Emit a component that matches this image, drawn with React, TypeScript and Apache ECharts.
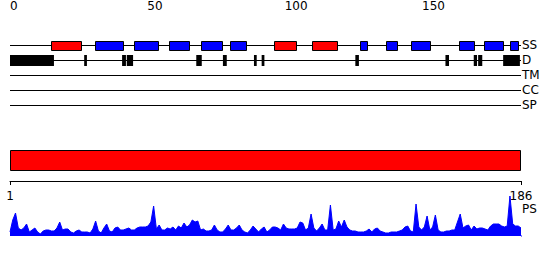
import React, { useEffect, useRef } from "react";
import * as echarts from "echarts";

const SEQ_LENGTH = 186;
const TRACKS = ["SS", "D", "TM", "CC", "SP"];
const RULER_TICKS = [0, 10, 20, 30, 40, 50, 60, 70, 80, 90, 100, 110, 120, 130, 140, 150, 160, 170, 180];
const RULER_LABELS = [0, 50, 100, 150];
const PS_AXIS_LABELS = [1, 186];

// secondary structure: [start, end]
const SS_HELIX = [[15, 26], [96, 104], [110, 119]];
const SS_STRAND = [
  [31, 41], [45, 54], [58, 65], [69.5, 77], [80, 86], [127.5, 130],
  [137, 141], [146, 153], [163.5, 169], [172.5, 179.5], [182, 185],
];
// disorder regions
const DISORDER = [
  [0, 16], [27, 28], [40.8, 42.2], [42.5, 44.8], [67.8, 69.8], [77.5, 78.9],
  [88.8, 89.8], [91.6, 92.6], [125.7, 127], [158.5, 159.8], [168.8, 170],
  [170.4, 171.9], [179.5, 185.6],
];
// full-length domain
const DOMAINS = [[0, 186]];

// profile values per residue (1..186)
const PS_VALUES = [
  4, 16, 23, 8, 6, 8, 12, 4, 6, 8,
  4, 2, 5, 6, 6, 5, 5, 8, 14, 6,
  7, 7, 4, 3, 5, 6, 4, 4, 4, 3,
  7, 15, 5, 3, 8, 12, 5, 4, 8, 9,
  6, 6, 7, 8, 6, 6, 8, 9, 9, 9,
  10, 14, 30, 7, 11, 6, 6, 8, 7, 9,
  6, 10, 8, 13, 9, 11, 16, 14, 15, 6,
  7, 5, 5, 6, 11, 6, 4, 4, 7, 11,
  6, 6, 8, 11, 6, 4, 3, 6, 10, 7,
  4, 7, 9, 4, 6, 9, 9, 8, 6, 12,
  8, 7, 7, 7, 8, 14, 13, 6, 8, 22,
  8, 5, 8, 12, 6, 6, 31, 6, 7, 15,
  9, 16, 9, 6, 5, 5, 4, 4, 4, 5,
  7, 4, 7, 8, 5, 4, 3, 3, 4, 4,
  4, 5, 6, 9, 10, 5, 4, 32, 9, 6,
  9, 20, 6, 9, 21, 6, 4, 4, 5, 5,
  6, 6, 14, 22, 8, 10, 11, 6, 10, 7,
  8, 8, 7, 6, 10, 12, 12, 12, 10, 9,
  10, 40, 12, 10, 10, 8,
];
const PS_TAIL = [[186, 0], [190.5, 0]];

const FONT = "DejaVu Sans";

export default function App() {
  const ref = useRef<HTMLDivElement>(null);

  useEffect(() => {
    document.body.style.margin = "0";
    const chart = echarts.init(ref.current!, null, { renderer: "svg" });

    const trackIdx = (name: string) => TRACKS.indexOf(name);

    const boxRenderer = (fill: string, stroke: boolean, halfUp: number, h: number) =>
      (params: any, api: any) => {
        const s = api.value(0);
        const e = api.value(1);
        const t = api.value(2);
        const p0 = api.coord([s, t]);
        const p1 = api.coord([e, t]);
        const yc = Math.round(p0[1]);
        if (stroke) {
          const x0 = Math.round(p0[0]) + 0.5;
          const x1 = Math.round(p1[0]) + 0.5;
          return {
            type: "rect",
            shape: { x: x0, y: yc - halfUp + 0.5, width: x1 - x0, height: h },
            style: { fill, stroke: "#000", lineWidth: 1 },
          };
        }
        return {
          type: "rect",
          shape: { x: p0[0], y: yc - halfUp, width: p1[0] - p0[0], height: h },
          style: { fill },
        };
      };

    const option: any = {
      animation: false,
      grid: [
        { left: 10, width: 511, top: 37.5, height: 75 },
        { left: 10, width: 511, top: 150, height: 21 },
        { left: 10, width: 511, top: 181, height: 55 },
      ],
      xAxis: [
        {
          gridIndex: 0,
          type: "value",
          min: 0,
          max: SEQ_LENGTH,
          position: "top",
          offset: 22.5,
          axisLine: { onZero: false, lineStyle: { color: "#000", width: 1 } },
          axisTick: { customValues: RULER_TICKS, length: 3, lineStyle: { color: "#000" } },
          axisLabel: {
            customValues: RULER_LABELS,
            align: "left",
            margin: 3,
            color: "#000",
            fontFamily: FONT,
            fontSize: 12,
          },
          splitLine: { show: false },
        },
        { gridIndex: 1, type: "value", min: 0, max: SEQ_LENGTH, show: false },
        {
          gridIndex: 2,
          type: "value",
          min: 1,
          max: SEQ_LENGTH,
          position: "top",
          axisLine: { onZero: false, lineStyle: { color: "#000", width: 1 } },
          axisTick: { inside: true, length: 4, customValues: PS_AXIS_LABELS, lineStyle: { color: "#000" } },
          axisLabel: {
            inside: true,
            customValues: PS_AXIS_LABELS,
            margin: 9,
            color: "#000",
            fontFamily: FONT,
            fontSize: 12,
          },
          splitLine: { show: false },
        },
      ],
      yAxis: [
        {
          gridIndex: 0,
          type: "category",
          data: TRACKS,
          inverse: true,
          position: "right",
          axisLine: { show: false },
          axisTick: { show: false },
          axisLabel: { interval: 0, margin: 1, color: "#000", fontFamily: FONT, fontSize: 12 },
          splitLine: { show: false },
        },
        { gridIndex: 1, type: "value", min: 0, max: 1, show: false },
        {
          gridIndex: 2,
          type: "value",
          min: 0,
          max: 55,
          position: "right",
          axisLine: { show: false },
          axisTick: { show: false },
          axisLabel: { show: false },
          splitLine: { show: false },
          name: "PS",
          nameLocation: "middle",
          nameRotate: 0,
          nameGap: 1,
          nameTextStyle: { color: "#000", fontFamily: FONT, fontSize: 12, padding: [13, 0, 0, 0] },
        },
      ],
      series: [
        {
          type: "custom",
          name: "tracks",
          xAxisIndex: 0,
          yAxisIndex: 0,
          encode: { x: [0, 1], y: 2 },
          data: TRACKS.map((t) => [0, SEQ_LENGTH, trackIdx(t)]),
          renderItem: (params: any, api: any) => {
            const p0 = api.coord([api.value(0), api.value(2)]);
            const p1 = api.coord([api.value(1), api.value(2)]);
            const y = Math.round(p0[1]) + 0.5;
            return {
              type: "line",
              shape: { x1: p0[0], y1: y, x2: p1[0], y2: y },
              style: { stroke: "#000", lineWidth: 1 },
            };
          },
        },
        {
          type: "custom",
          name: "disorder",
          xAxisIndex: 0,
          yAxisIndex: 0,
          encode: { x: [0, 1], y: 2 },
          data: DISORDER.map((d) => [d[0], d[1], trackIdx("D")]),
          renderItem: boxRenderer("#000", false, 5, 11),
        },
        {
          type: "custom",
          name: "helix",
          xAxisIndex: 0,
          yAxisIndex: 0,
          encode: { x: [0, 1], y: 2 },
          data: SS_HELIX.map((d) => [d[0], d[1], trackIdx("SS")]),
          renderItem: boxRenderer("#ff0000", true, 4, 9),
        },
        {
          type: "custom",
          name: "strand",
          xAxisIndex: 0,
          yAxisIndex: 0,
          encode: { x: [0, 1], y: 2 },
          data: SS_STRAND.map((d) => [d[0], d[1], trackIdx("SS")]),
          renderItem: boxRenderer("#0000ff", true, 4, 9),
        },
        {
          type: "custom",
          name: "domain",
          xAxisIndex: 1,
          yAxisIndex: 1,
          encode: { x: [0, 1] },
          data: DOMAINS,
          renderItem: (params: any, api: any) => {
            const p0 = api.coord([api.value(0), 1]);
            const p1 = api.coord([api.value(1), 0]);
            const x0 = Math.round(p0[0]) + 0.5;
            const x1 = Math.round(p1[0]) - 0.5;
            const y0 = Math.round(p0[1]) + 0.5;
            const y1 = Math.round(p1[1]) - 0.5;
            return {
              type: "rect",
              shape: { x: x0, y: y0, width: x1 - x0, height: y1 - y0 },
              style: { fill: "#ff0000", stroke: "#000", lineWidth: 1 },
            };
          },
        },
        {
          type: "line",
          name: "PS",
          xAxisIndex: 2,
          yAxisIndex: 2,
          data: PS_VALUES.map((v, i) => [i + 1, v]),
          symbol: "none",
          lineStyle: { color: "#0000ff", width: 1 },
          areaStyle: { color: "#0000ff", opacity: 1 },
        },
        {
          type: "line",
          name: "tail",
          xAxisIndex: 2,
          yAxisIndex: 2,
          data: PS_TAIL,
          symbol: "none",
          clip: false,
          lineStyle: { color: "#0000ff", width: 1 },
        },
      ],
    };

    chart.setOption(option);
    return () => chart.dispose();
  }, []);

  return (
    <div
      ref={ref}
      style={{ position: "absolute", left: 0, top: 0, width: 550, height: 260 }}
    />
  );
}
